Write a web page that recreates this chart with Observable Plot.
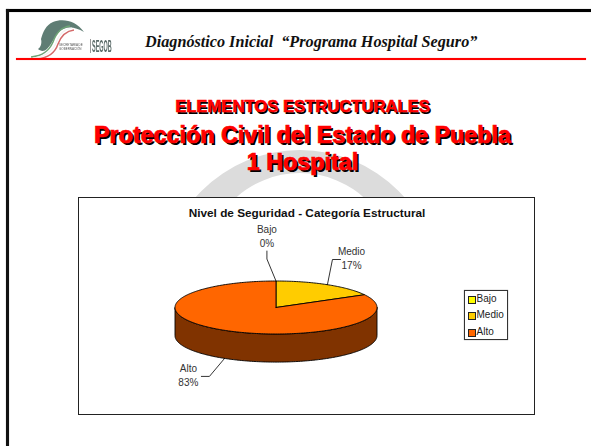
<!DOCTYPE html>
<html lang="es">
<head>
<meta charset="utf-8">
<script src="https://cdn.jsdelivr.net/npm/d3@7"></script>
<script src="https://cdn.jsdelivr.net/npm/@observablehq/plot@0.6"></script>
<style>
html,body{margin:0;padding:0;background:#fff;}
#slide{position:relative;width:591px;height:446px;overflow:hidden;font-family:"Liberation Sans",Arial,sans-serif;}
#slide>*{position:absolute;}
#frameTop{left:6px;top:9px;right:0;height:3px;background:#000;box-shadow:0 0 1px #666;}
#frameLeft{left:6px;top:9px;bottom:0;width:2.5px;background:#111;box-shadow:0 0 1px #666;}
#rule{left:16px;top:58px;width:570px;height:2px;background:#f00;box-shadow:0 0 1px #f66;}
#head{left:145px;top:33px;font:italic bold 16.2px "Liberation Serif",serif;white-space:pre;color:#111;}
.t{left:0;width:605px;text-align:center;font-weight:bold;color:#f00;white-space:pre;line-height:20px;}
#t1{top:97px;font-size:16.8px;-webkit-text-stroke:.5px #f00;text-shadow:1.5px 1.5px .3px #000;letter-spacing:-.1px;}
#t2{top:125px;font-size:23.3px;-webkit-text-stroke:.7px #f00;text-shadow:2px 2px .3px #000;}
#t3{top:152px;font-size:23.3px;-webkit-text-stroke:.7px #f00;text-shadow:2px 2px .3px #000;}
#box{left:78px;top:197px;width:455px;height:216px;border:1.3px solid #222;background:#fff;}
#box svg{display:block;}
#legend{left:463.5px;top:289.5px;width:42px;height:48.5px;border:1px solid #333;background:#fff;box-shadow:0 0 1px #888;}
.sw{position:absolute;left:3px;width:6px;height:6px;border:.8px solid #222;}
.lg{position:absolute;left:12px;font-size:10px;line-height:12px;color:#222;}
</style>
</head>
<body>
<div id="slide">
  <svg id="mark" width="591" height="197" style="left:0;top:0">
    <path fill="#dcdcdc" fill-rule="evenodd" d="M161 289a139 139 0 1 1 278 0a139 139 0 1 1 -278 0zM204 270a96 97 0 1 1 192 0a96 97 0 1 1 -192 0z"/>
  </svg>
  <svg id="logo" width="130" height="65" style="left:0;top:5px;filter:blur(.6px)">
    <g transform="translate(0 -3)">
      <path fill="#5f7d74" d="M41 37C43 30 46 23 53 20C62 16 76 18 84 30C74 24 65 24 59 30C54 35 52 42 47 47C44 50 40 49 38 47C41 45 42 41 41 37Z"/>
      <path fill="none" stroke="#6ea376" stroke-width="1.6" d="M31 55C43 54 49 49 53 40C56 31 62 25 70 24"/>
      <path fill="none" stroke="#f2f2f2" stroke-width="1.2" d="M33 56C45 55 52 50 56 41C59 32 64 27 72 26"/>
      <path fill="none" stroke="#d46a6a" stroke-width="1.5" d="M37 57C48 56 55 51 58 42C61 34 66 29 74 28"/>
    </g>
    <text x="59" y="41" font-size="3" fill="#555" font-family="Liberation Sans">SECRETARÍA DE</text>
    <text x="59" y="45" font-size="3" fill="#555" font-family="Liberation Sans">GOBERNACIÓN</text>
    <rect x="90" y="34" width="1" height="14" fill="#999"/>
    <text transform="translate(92 47) scale(.33 1)" font-size="16.5" font-weight="bold" fill="#5a6a68" font-family="Liberation Sans">SEGOB</text>
  </svg>
  <div id="frameTop"></div>
  <div id="frameLeft"></div>
  <div id="rule"></div>
  <div id="head">Diagnóstico Inicial  “Programa Hospital Seguro”</div>
  <div class="t" id="t1">ELEMENTOS ESTRUCTURALES</div>
  <div class="t" id="t2">Protección Civil del Estado de Puebla</div>
  <div class="t" id="t3">1 Hospital</div>
  <div id="box"></div>
  <div id="legend"></div>
</div>
<script>
// Data
const chartTitle = "Nivel de Seguridad - Categoría Estructural";
const categories = ["Bajo", "Medio", "Alto"];
const shares = [0, 17, 83];
const colors = ["#FFFF00", "#FFCC00", "#FF6600"];
const wallColor = "#803300";

// Unit-circle pie: angle 0 at 12 o'clock, clockwise
const rad = Math.PI / 180;
const pie = d3.pie().sort(null).value(d => d)(shares);
const depth = 1.06; // height of the tilted disc in y units
const rim = (a, drop = 0) => ({x: Math.sin(a), y: Math.cos(a) - drop});

const slices = pie.flatMap((p, i) => {
  const n = Math.max(1, Math.ceil((p.endAngle - p.startAngle) / rad));
  const arc = d3.range(n + 1).map(k => rim(p.startAngle + (p.endAngle - p.startAngle) * k / n));
  return [{x: 0, y: 0}, ...arc, {x: 0, y: 0}].map(q => ({...q, name: categories[i]}));
});
const front = d3.range(90, 271).map(d => rim(d * rad));
const wall = [...front, ...front.slice().reverse().map(q => ({x: q.x, y: q.y - depth}))];
wall.push(wall[0]);

// Data labels sit at the mid-angle of each slice, joined by an elbow leader
const labelOffsets = {Bajo: [-0.09, 0.83, -0.09, 1.13], Medio: [0.05, 0.95, 0.13, 0.95], Alto: [-0.15, -0.68, -0.23, -0.68]};
const labels = pie.map((p, i) => {
  const a = (p.startAngle + p.endAngle) / 2;
  const name = categories[i];
  const start = rim(a, a > Math.PI / 2 && a < 3 * Math.PI / 2 ? depth : 0);
  const [dx1, dy1, dx2, dy2] = labelOffsets[name];
  return {name, pct: `${name}\n${Math.round(p.value)}%`, start,
    p1: {x: start.x + dx1, y: start.y + dy1}, p2: {x: start.x + dx2, y: start.y + dy2}};
});
const leaders = labels.flatMap(l => [l.start, l.p1, l.p2].map(q => ({...q, name: l.name})));
const textAt = {
  Bajo:  {dx: 0,   dy: -16, anchor: "middle"},
  Medio: {dx: 11,  dy: -2,  anchor: "middle"},
  Alto:  {dx: -13, dy: -2,  anchor: "middle"}
};

const chart = Plot.plot({
  width: 455, height: 216,
  margin: 0,
  axis: null,
  x: {domain: [-1, 1], range: [95.5, 297.5]},
  y: {domain: [-1, 1], range: [135.5, 82.5]},
  color: {domain: categories, range: colors},
  marks: [
    Plot.line(wall, {x: "x", y: "y", fill: wallColor, stroke: "#000", strokeWidth: 0.9}),
    Plot.line(slices, {x: "x", y: "y", z: "name", fill: "name", stroke: "#000", strokeWidth: 0.9}),
    Plot.line(leaders, {x: "x", y: "y", z: "name", stroke: "#000", strokeWidth: 0.8}),
    ...labels.map(l => Plot.text([l], {
      x: d => d.p2.x, y: d => d.p2.y, text: "pct",
      dx: textAt[l.name].dx, dy: textAt[l.name].dy, textAnchor: textAt[l.name].anchor,
      fontSize: 10, lineHeight: 1.4, fill: "#333", fontFamily: "Liberation Sans"
    })),
    Plot.text([chartTitle], {
      frameAnchor: "top", dy: 10, fontSize: 11.8, fontWeight: "bold",
      fill: "#111", fontFamily: "Liberation Sans"
    })
  ]
});
document.getElementById("box").append(chart);

const legend = document.getElementById("legend");
categories.forEach((c, i) => {
  const top = 5.5 + i * 16.4;
  const sw = document.createElement("div");
  sw.className = "sw"; sw.style.top = top + "px"; sw.style.background = colors[i];
  const lg = document.createElement("div");
  lg.className = "lg"; lg.style.top = (top - 3) + "px"; lg.textContent = c;
  legend.append(sw, lg);
});
</script>
</body>
</html>
